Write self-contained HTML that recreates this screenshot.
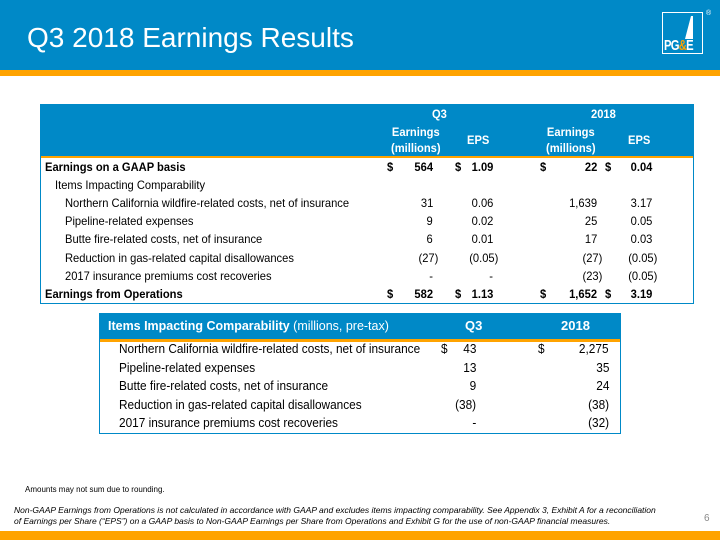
<!DOCTYPE html>
<html><head><meta charset="utf-8"><style>
body{margin:0;width:720px;height:540px;position:relative;overflow:hidden;background:#fff;font-family:"Liberation Sans",Arial,sans-serif;color:#000}
.a{position:absolute;white-space:nowrap}
.r{text-align:right}
.c{text-align:center}
.b{font-weight:bold}
.t1{font-size:12px;transform:scaleX(0.93);transform-origin:left}
.t2{font-size:13px;transform:scaleX(0.91);transform-origin:left}
.w{color:#fff}
</style></head><body>
<div class="a" style="left:0;top:0;width:720px;height:70px;background:#0089C7"></div>
<div class="a" style="left:0;top:70px;width:720px;height:6px;background:#FFA300"></div>
<div class="a w" style="left:27px;top:21px;font-size:28px;line-height:34px">Q3 2018 Earnings Results</div>
<div class="a" style="left:662px;top:12px;width:39px;height:40px;border:1.5px solid #fff;">
<svg width="39" height="40" style="position:absolute;left:0;top:0"><polygon points="28,3 30,3 30,26 22,26" fill="#fff"/></svg>
<div class="a b" style="left:1px;top:24px;font-size:15px;letter-spacing:-1px;color:#fff;transform:scaleX(0.75);transform-origin:left">PG<span style="color:#FFA300">&amp;</span>E</div>
</div>
<div class="a w" style="left:706px;top:10px;font-size:7px">®</div>

<div class="a" style="left:40px;top:104px;width:652px;height:198px;border:1.5px solid #0089C7">
<div class="a" style="left:0;top:0;width:652px;height:51px;background:#0089C7"></div>
<div class="a" style="left:0;top:51px;width:652px;height:2px;background:#FFA300"></div>
</div>
<div class="a w b t1" style="left:432px;top:107px">Q3</div>
<div class="a w b t1" style="left:591px;top:107px">2018</div>
<div class="a w b t1 c" style="left:391px;top:124px;line-height:16px">Earnings<br>(millions)</div>
<div class="a w b t1" style="left:467px;top:133px">EPS</div>
<div class="a w b t1 c" style="left:546px;top:124px;line-height:16px">Earnings<br>(millions)</div>
<div class="a w b t1" style="left:628px;top:133px">EPS</div>

<div id="t1rows"></div>

<div class="a" style="left:99px;top:313px;width:520px;height:119px;border:1.5px solid #0089C7">
<div class="a" style="left:0;top:0;width:520px;height:25px;background:#0089C7"></div>
<div class="a" style="left:0;top:25px;width:520px;height:2.5px;background:#FFA300"></div>
</div>
<div class="a w" style="left:108px;top:318px;font-size:13px;transform:scaleX(0.96);transform-origin:left"><b>Items Impacting Comparability</b> (millions, pre-tax)</div>
<div class="a w b" style="left:465px;top:318px;font-size:13px">Q3</div>
<div class="a w b" style="left:561px;top:318px;font-size:13px">2018</div>
<div id="t2rows"></div>

<div class="a" style="left:25px;top:485px;font-size:8px">Amounts may not sum due to rounding.</div>
<div class="a" style="left:14px;top:505px;font-size:8.5px;font-style:italic;line-height:11px">Non-GAAP Earnings from Operations is not calculated in accordance with GAAP and excludes items impacting comparability. See Appendix 3, Exhibit A for a reconciliation<br>of Earnings per Share (“EPS”) on a GAAP basis to Non-GAAP Earnings per Share from Operations and Exhibit G for the use of non-GAAP financial measures.</div>
<div class="a" style="left:704px;top:513px;font-size:10px;color:#888">6</div>
<div class="a" style="left:0;top:531px;width:720px;height:9px;background:#FFA300"></div>

<script>
const t1Labels=["Earnings on a GAAP basis","Items Impacting Comparability","Northern California wildfire-related costs, net of insurance","Pipeline-related expenses","Butte fire-related costs, net of insurance","Reduction in gas-related capital disallowances","2017 insurance premiums cost recoveries","Earnings from Operations"];
const t1Q3Earn=["564","","31","9","6","(27)","-","582"];
const t1Q3Eps=["1.09","","0.06","0.02","0.01","(0.05)","-","1.13"];
const t1YrEarn=["22","","1,639","25","17","(27)","(23)","1,652"];
const t1YrEps=["0.04","","3.17","0.05","0.03","(0.05)","(0.05)","3.19"];
const t2Labels=["Northern California wildfire-related costs, net of insurance","Pipeline-related expenses","Butte fire-related costs, net of insurance","Reduction in gas-related capital disallowances","2017 insurance premiums cost recoveries"];
const t2Q3=["43","13","9","(38)","-"];
const t2Yr=["2,275","35","24","(38)","(32)"];

function mk(parent,txt,style,cls,name){
  const d=document.createElement('div');
  d.className='a '+cls;
  d.style.cssText=style;
  d.textContent=txt;
  
  
  parent.appendChild(d);
  return d;
}
function rightAt(x){return 'right:'+(720-x)+'px;';}
const p1=document.getElementById('t1rows');
t1Labels.forEach((lab,i)=>{
  const y=160+i*18.1;
  const bold=(i===0||i===7);
  const indent=bold?45:(i===1?55:65);
  const cls='t1'+(bold?' b':'');
  const top='top:'+y+'px;';
  mk(p1,lab,'left:'+indent+'px;'+top,cls,'row-label');
  const trans='transform-origin:right;';
  if(bold){
    mk(p1,'$','left:387px;'+top,cls,'dollar-sign');
    mk(p1,'$','left:455px;'+top,cls,'dollar-sign');
    mk(p1,'$','left:540px;'+top,cls,'dollar-sign');
    mk(p1,'$','left:605px;'+top,cls,'dollar-sign');
  }
  const sh=(v)=>v.startsWith('(')?5:0;
  const q=t1Q3Earn[i],e=t1Q3Eps[i],y2=t1YrEarn[i],e2=t1YrEps[i];
  if(q)mk(p1,q,rightAt(433+sh(q))+top+trans,cls,'q3-earnings-value');
  if(e)mk(p1,e,rightAt(493+sh(e))+top+trans,cls,'q3-eps-value');
  if(y2)mk(p1,y2,rightAt(597+sh(y2))+top+trans,cls,'2018-earnings-value');
  if(e2)mk(p1,e2,rightAt(652+sh(e2))+top+trans,cls,'2018-eps-value');
});
const p2=document.getElementById('t2rows');
t2Labels.forEach((lab,i)=>{
  const y=341+i*18.5;
  const top='top:'+y+'px;';
  const trans='transform-origin:right;';
  mk(p2,lab,'left:119px;'+top,'t2','item-label');
  if(i===0){
    mk(p2,'$','left:441px;'+top,'t2','dollar-sign');
    mk(p2,'$','left:538px;'+top,'t2','dollar-sign');
  }
  mk(p2,t2Q3[i],rightAt(476)+top+trans,'t2','item-q3-value');
  mk(p2,t2Yr[i],rightAt(609)+top+trans,'t2','item-2018-value');
});
</script>
</body></html>
